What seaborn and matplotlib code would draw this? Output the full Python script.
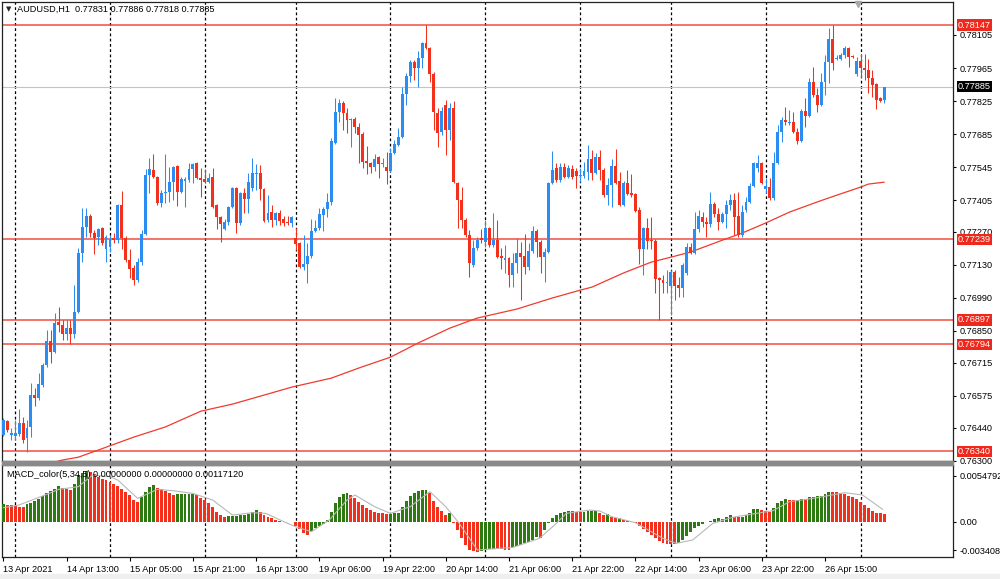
import numpy as np
import matplotlib
matplotlib.use("Agg")
import matplotlib.pyplot as plt
import matplotlib.transforms as mtransforms
from matplotlib.patches import Rectangle
import seaborn as sns

sns.set_theme(style="white")
plt.rcParams["font.family"] = ["Liberation Sans", "DejaVu Sans"]

# ---------------- data (prices in points, 1e-5) ----------------
opens_pts = [
    76409,76468,76409,76405,76413,76460,76396,76443,76578,76566,
    76621,76705,76807,76761,76888,76875,76837,76862,76837,76929,
    77180,77291,77337,77265,77248,77286,77197,77206,77244,77235,
    77384,77244,77151,77117,77066,77142,77261,77511,77532,77503,
    77392,77435,77439,77481,77549,77439,77486,77490,77536,77562,
    77498,77494,77481,77503,77384,77333,77282,77312,77375,77456,
    77308,77435,77409,77456,77515,77520,77452,77320,77354,77320,
    77350,77324,77312,77308,77244,77223,77121,77134,77168,77274,
    77286,77341,77367,77397,77647,77778,77816,77774,77744,77749,
    77715,77685,77570,77562,77545,77587,77558,77545,77528,77604,
    77638,77672,77855,77931,77990,77965,78007,78071,78049,77939,
    77774,77693,77808,77702,77795,77477,77405,77320,77257,77129,
    77201,77244,77227,77286,77214,77235,77168,77151,77159,77087,
    77138,77180,77168,77121,77189,77274,77227,77163,77185,77477,
    77541,77490,77545,77503,77536,77528,77507,77507,77524,77579,
    77520,77587,77532,77426,77469,77549,77486,77384,77477,77435,
    77430,77363,77197,77286,77235,77231,77074,77066,77053,77040,
    77100,77045,77032,77096,77206,77180,77282,77333,77312,77303,
    77388,77346,77312,77346,77384,77405,77337,77257,77363,77397,
    77464,77541,77562,77452,77460,77413,77562,77693,77744,77732,
    77736,77693,77655,77782,77761,77905,77850,77808,77905,77990,
    78088,78003,78003,78020,78049,78016,77939,77994,77965,77956,
    77922,77897,77838,77831]
highs_pts = [
    76481,76472,76439,76472,76519,76485,76472,76629,76608,76672,
    76714,76854,76854,76926,76951,76896,76896,76896,77045,77201,
    77371,77371,77346,77278,77286,77291,77257,77257,77265,77388,
    77443,77252,77197,77129,77159,77278,77536,77583,77600,77507,
    77447,77600,77545,77549,77553,77503,77503,77562,77562,77566,
    77541,77536,77520,77541,77388,77337,77324,77380,77460,77460,
    77439,77456,77520,77583,77558,77553,77456,77426,77384,77354,
    77363,77337,77337,77337,77286,77227,77257,77223,77324,77320,
    77371,77375,77435,77668,77838,77833,77825,77795,77753,77757,
    77732,77693,77634,77566,77600,77592,77583,77609,77626,77659,
    77710,77884,77943,77999,77999,78037,78075,78147,78054,77948,
    77795,77799,77829,77816,77825,77481,77460,77329,77278,77235,
    77248,77282,77320,77291,77350,77320,77201,77214,77163,77180,
    77244,77227,77261,77223,77295,77282,77235,77201,77481,77613,
    77562,77562,77562,77553,77553,77541,77541,77566,77638,77617,
    77604,77617,77541,77498,77579,77621,77524,77486,77532,77515,
    77435,77375,77291,77329,77333,77240,77079,77087,77108,77108,
    77108,77079,77138,77223,77223,77354,77363,77354,77333,77439,
    77397,77371,77354,77405,77430,77435,77439,77384,77418,77477,
    77566,77596,77566,77498,77498,77609,77723,77757,77799,77787,
    77778,77710,77791,77838,77922,77969,77880,77943,78020,78134,
    78147,78020,78028,78058,78054,78020,78011,78024,78024,78003,
    77956,77901,77842,77886]
lows_pts = [
    76405,76421,76387,76387,76405,76375,76337,76400,76532,76557,
    76612,76697,76714,76756,76845,76812,76812,76795,76820,76926,
    77142,77248,77248,77176,77214,77214,77142,77185,77223,77223,
    77197,77142,77074,77045,77057,77129,77257,77435,77498,77384,
    77375,77392,77397,77405,77380,77435,77375,77481,77477,77494,
    77418,77477,77477,77371,77282,77227,77278,77299,77371,77265,
    77299,77350,77350,77443,77447,77405,77312,77312,77291,77299,
    77299,77295,77299,77291,77193,77117,77108,77053,77159,77269,
    77278,77274,77333,77384,77642,77736,77702,77689,77630,77689,
    77562,77541,77515,77520,77528,77498,77545,77473,77524,77600,
    77634,77668,77808,77905,77914,77884,77965,78045,77905,77702,
    77630,77681,77596,77659,77477,77286,77286,77248,77079,77121,
    77193,77223,77206,77206,77206,77159,77112,77096,77036,77036,
    77096,76981,77091,77108,77180,77163,77096,77057,77180,77473,
    77481,77481,77498,77498,77494,77456,77481,77498,77490,77490,
    77515,77490,77418,77384,77375,77473,77380,77380,77426,77418,
    77354,77134,77087,77197,77197,77011,76896,77011,77011,76917,
    76981,76994,76994,77087,77176,77176,77269,77291,77248,77291,
    77333,77278,77308,77286,77363,77257,77248,77248,77354,77392,
    77460,77524,77473,77435,77405,77405,77558,77651,77723,77723,
    77689,77642,77651,77715,77757,77842,77778,77804,77850,77901,
    77956,77999,77999,78007,77969,78007,77931,77922,77914,77859,
    77842,77791,77821,77818]
closes_pts = [
    76472,76430,76417,76417,76460,76387,76439,76578,76566,76625,
    76705,76807,76761,76884,76875,76837,76862,76837,76929,77180,
    77291,77337,77265,77244,77282,77223,77248,77235,77235,77384,
    77244,77151,77112,77066,77142,77261,77511,77536,77503,77392,
    77435,77439,77481,77545,77439,77494,77494,77536,77558,77498,
    77490,77481,77498,77375,77333,77303,77312,77375,77456,77308,
    77435,77409,77481,77520,77520,77452,77316,77350,77320,77350,
    77316,77308,77308,77333,77218,77121,77134,77168,77274,77286,
    77346,77367,77397,77655,77778,77816,77774,77744,77749,77715,
    77681,77566,77562,77545,77579,77558,77562,77528,77604,77642,
    77672,77855,77931,77990,77965,78007,78071,78049,77939,77778,
    77689,77782,77702,77795,77481,77405,77320,77257,77138,77201,
    77235,77235,77286,77214,77235,77163,77159,77159,77087,77138,
    77180,77163,77121,77189,77274,77227,77163,77185,77477,77532,
    77490,77545,77503,77541,77503,77507,77511,77528,77579,77520,
    77587,77532,77426,77469,77549,77477,77384,77477,77430,77426,
    77358,77197,77286,77231,77231,77070,77066,77053,77057,77100,
    77040,77032,77129,77206,77180,77282,77337,77312,77303,77388,
    77346,77312,77346,77384,77405,77333,77257,77354,77397,77464,
    77562,77562,77477,77464,77413,77562,77693,77744,77736,77736,
    77693,77655,77782,77761,77905,77850,77808,77905,77990,78088,
    77986,78007,78020,78049,78011,78011,77994,77965,77956,77922,
    77893,77829,77825,77885]

# moving average (read at sample bars)
ma_bars = [10, 13, 15, 19, 24, 33, 41, 50, 58, 67, 73, 83, 90, 98, 105, 113, 120,
           130, 139, 146, 149, 157, 164, 169, 174, 178, 182, 187, 193, 199, 206,
           211, 217, 219, 223]
ma_pts = [76290, 76294, 76303, 76315, 76345, 76400, 76443, 76510, 76540, 76583,
          76612, 76650, 76693, 76739, 76799, 76862, 76905, 76943, 76990, 77023,
          77036, 77096, 77142, 77163, 77185, 77210, 77235, 77265, 77308, 77354,
          77397, 77426, 77460, 77473, 77481]

# MACD histogram (units of 1e-4)
macd_hist = [
    20.6,20.2,19.9,18.7,17.9,17.5,21.0,22.6,24.2,26.6,
    30.6,34.5,36.1,39.3,42.1,39.7,38.9,38.1,44.9,55.2,
    58.4,59.9,58.8,56.8,53.6,51.2,49.6,47.2,44.9,42.5,
    38.5,34.9,31.4,25.8,23.4,29.0,35.3,40.9,43.3,40.1,
    38.5,36.5,34.1,32.2,32.4,32.6,32.8,33.0,33.2,31.4,
    28.6,25.8,21.8,17.1,11.9,7.9,6.0,6.4,6.7,7.1,
    7.5,8.3,9.5,11.1,13.5,11.5,7.9,6.0,4.0,2.0,
    0.8,-0.4,-0.8,-0.4,-5.2,-9.1,-13.1,-16.3,-11.5,-7.9,
    -5.2,-2.8,2.0,11.9,21.8,29.0,32.6,33.7,31.4,28.6,
    23.8,19.9,16.7,13.9,11.9,10.7,9.9,9.1,9.5,9.9,
    10.7,17.9,24.6,31.0,34.1,36.1,37.3,37.7,34.5,24.6,
    17.9,12.7,8.3,9.9,-2.0,-9.9,-19.9,-27.8,-33.7,-35.3,
    -36.1,-34.5,-33.7,-33.0,-32.2,-32.6,-33.0,-33.3,-33.7,-30.6,
    -29.0,-27.8,-25.8,-23.8,-21.8,-18.7,-19.1,-9.9,-1.2,4.0,
    7.5,9.9,11.9,12.7,12.3,11.9,11.5,11.9,12.3,12.7,
    13.1,9.9,7.9,8.7,6.0,4.0,4.4,2.0,1.2,0.0,
    -2.0,-5.2,-9.1,-11.9,-15.9,-19.9,-23.0,-25.0,-26.2,-26.6,
    -27.0,-25.0,-21.8,-17.1,-11.9,-7.9,-4.8,-2.4,-0.4,1.2,
    2.8,4.0,3.2,5.2,7.5,6.0,5.2,6.0,7.5,10.7,
    14.7,15.5,13.9,12.7,11.9,15.9,21.8,24.6,26.6,25.8,
    25.4,25.8,27.0,26.6,29.0,29.8,30.2,30.6,33.0,35.7,
    35.3,34.9,34.1,32.6,31.0,29.0,26.6,23.4,20.2,16.7,
    13.1,10.7,9.9,9.1]

# MACD signal line (read at sample bars, units 1e-4)
sig_bars = [0, 4, 11.6, 14, 19, 22.6, 27, 29, 34, 39, 43, 48, 53, 58, 63, 66.5, 71,
            74, 78, 82.5, 87, 89, 94, 98, 103, 108, 112, 115.4, 120, 125.6, 129,
            135.7, 140, 142.5, 148.4, 151, 154, 160, 167, 170.3, 174.5, 179.6,
            184.6, 190.6, 194.8, 199, 205, 213, 217.5, 222.6]
sig_vals = [16.7, 19.9, 33.7, 38.5, 41.7, 55.6, 53.6, 49.6, 27.8, 38.5, 36.9, 33.7,
            25.8, 7.9, 10.7, 9.9, 0.0, -6.0, -11.9, 2.0, 25.8, 31.8, 17.9, 9.9,
            17.9, 35.7, 17.9, -2.0, -33.7, -31.8, -30.6, -19.9, -2.0, 9.9, 13.9,
            12.7, 6.0, -1.2, -19.9, -25.8, -21.8, -2.0, 5.2, 9.9, 13.1, 23.8,
            27.8, 34.5, 31.8, 14.7]

level_lines = [0.78147, 0.77239, 0.76897, 0.76794, 0.76340]
bid_price = 0.77885
price_ticks = [0.78105, 0.77965, 0.77825, 0.77685, 0.77545, 0.77405, 0.77270,
               0.77130, 0.76990, 0.76850, 0.76715, 0.76575, 0.76440, 0.76300]
day_separators = [3, 27, 51, 74, 98, 122, 146, 169, 193, 217]
date_tick_bars = [0, 16, 32, 48, 64, 80, 96, 112, 128, 144, 160, 176, 192, 208]
date_tick_labels = ["13 Apr 2021", "14 Apr 13:00", "15 Apr 05:00", "15 Apr 21:00",
                    "16 Apr 13:00", "19 Apr 06:00", "19 Apr 22:00", "20 Apr 14:00",
                    "21 Apr 06:00", "21 Apr 22:00", "22 Apr 14:00", "23 Apr 06:00",
                    "23 Apr 22:00", "26 Apr 15:00"]
macd_ticks = [0.0054792, 0.0, -0.003408]
macd_tick_labels = ["0.0054792", "0.00", "-0.003408"]
title_text = "AUDUSD,H1  0.77831 0.77886 0.77818 0.77885"
macd_text = "MACD_color(5,34,5) 0.00000000 0.00000000 0.00117120"

# ---------------- derived arrays ----------------
o = np.array(opens_pts) / 1e5
h = np.array(highs_pts) / 1e5
l = np.array(lows_pts) / 1e5
c = np.array(closes_pts) / 1e5
n = len(c)
idx = np.arange(n)
ma = np.array(ma_pts) / 1e5
hist = np.array(macd_hist) / 1e4
sig = np.array(sig_vals) / 1e4

BULL = "#2b8cf2"
BEAR = "#f2301c"
LVL = "#ee3b2e"
GREEN = "#2e7a12"
FS = 6.6

W, H = 1000, 579
fig = plt.figure(figsize=(W / 100, H / 100), dpi=100)
fig.patch.set_facecolor("white")


def frac(x0, y0, x1, y1):
    return [x0 / W, 1 - y1 / H, (x1 - x0) / W, (y1 - y0) / H]


ax = fig.add_axes(frac(2, 2, 953, 461))
axm = fig.add_axes(frac(2, 465, 953, 557))

for a in (ax, axm):
    a.set_facecolor("white")
    for s in a.spines.values():
        s.set_color("#222222")
        s.set_linewidth(0.9)
    a.set_xlim(-0.33, 240.4)
    for d in day_separators:
        a.axvline(d, color="black", lw=0.9, ls=(0, (2.2, 2.0)), zorder=1)

# ---------------- main price panel ----------------
ax.set_ylim(0.762988, 0.782449)
ax.axhline(bid_price, color="#c4c4c4", lw=0.8, zorder=1.5)
for lv in level_lines:
    ax.axhline(lv, color=LVL, lw=1.1, alpha=0.9, zorder=2)

sns.lineplot(x=ma_bars, y=ma, ax=ax, color=LVL, lw=0.9, estimator=None,
             sort=False, legend=False, zorder=2.5)

cols = np.where(c >= o, BULL, BEAR)
ax.vlines(idx, l, h, colors=cols, lw=0.75, zorder=3)
body_bottom = np.minimum(o, c)
body_height = np.maximum(np.abs(c - o), 0.000022)
ax.bar(idx, body_height, bottom=body_bottom, width=0.74, color=cols,
       linewidth=0, zorder=4)

ax.set_xticks([])
ax.yaxis.tick_right()
ax.set_yticks(price_ticks)
ax.set_yticklabels([f"{t:.5f}" for t in price_ticks])
ax.tick_params(axis="y", which="both", right=True, left=False, direction="out",
               length=2.5, width=0.8, pad=2.5, labelsize=FS, colors="black")

trans = mtransforms.blended_transform_factory(ax.transAxes, ax.transData)
for lv in level_lines:
    ax.annotate(f"{lv:.5f}", xy=(1, lv), xycoords=trans, xytext=(3.6, 0),
                textcoords="offset points", ha="left", va="center", fontsize=FS,
                color="white", annotation_clip=False, zorder=10,
                bbox=dict(boxstyle="square,pad=0.12", fc="#f0281c", ec="none"))
ax.annotate(f"{bid_price:.5f}", xy=(1, bid_price), xycoords=trans, xytext=(3.6, 0),
            textcoords="offset points", ha="left", va="center", fontsize=FS,
            color="white", annotation_clip=False, zorder=10,
            bbox=dict(boxstyle="square,pad=0.12", fc="black", ec="none"))

ax.plot([216.4], [0.78238], marker="v", color="#a8a8a8", ms=4.5,
        clip_on=False, zorder=6)

ax.text(0.0045, 0.985, "\u25BC", transform=ax.transAxes, fontsize=5,
        family=["DejaVu Sans"], va="center", ha="left", zorder=11)
ax.text(0.0158, 0.985, title_text, transform=ax.transAxes, fontsize=FS,
        va="center", ha="left", color="black", zorder=11)

# ---------------- MACD panel ----------------
axm.set_ylim(-0.004205, 0.006754)
hcols = [GREEN] + [GREEN if hist[i] > hist[i - 1] else BEAR for i in range(1, n)]
axm.bar(idx, hist, width=0.74, color=hcols, linewidth=0, zorder=3)
sns.lineplot(x=sig_bars, y=sig, ax=axm, color="#b8b8b8", lw=0.8, estimator=None,
             sort=False, legend=False, zorder=4)

axm.yaxis.tick_right()
axm.set_yticks(macd_ticks)
axm.set_yticklabels(macd_tick_labels)
axm.tick_params(axis="y", right=True, left=False, direction="out", length=2.5,
                width=0.8, pad=2.5, labelsize=FS, colors="black")
axm.set_xticks(date_tick_bars)
axm.set_xticklabels(date_tick_labels)
axm.tick_params(axis="x", bottom=True, direction="out", length=3, width=0.8,
                pad=2.5, labelsize=FS, colors="black")
for lab in axm.get_xticklabels():
    lab.set_ha("left")
axm.set_ylabel("")
axm.set_xlabel("")
ax.set_ylabel("")
ax.set_xlabel("")
axm.text(0.005, 0.9, macd_text, transform=axm.transAxes, fontsize=FS,
         va="center", ha="left", color="black", zorder=11)

# splitter between panels and bottom strip
fig.patches.append(Rectangle((2 / W, 1 - 465 / H), 951 / W, 4 / H,
                             transform=fig.transFigure, color="#8a8a8a",
                             zorder=5))
fig.patches.append(Rectangle((0, 0), 1, 5 / H, transform=fig.transFigure,
                             color="#efefef", zorder=0))

fig.savefig("out.png", dpi=100, facecolor="white")
